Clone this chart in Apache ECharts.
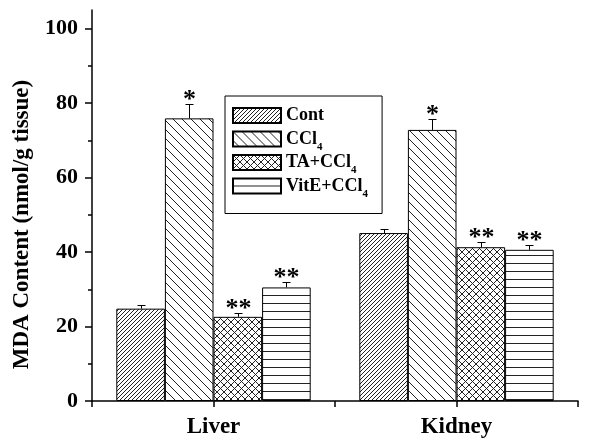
<!DOCTYPE html>
<html><head><meta charset="utf-8">
<script src="https://cdn.jsdelivr.net/npm/echarts@6/dist/echarts.min.js"></script>
<style>html,body{margin:0;padding:0;background:#fff}#c{width:600px;height:446px}</style>
</head><body><div id="c"></div>
<script>
const categories = ['Liver', 'Kidney'];
const seriesNames = ['Cont', 'CCl4', 'TA+CCl4', 'VitE+CCl4'];
const contValues = [24.8, 45.1];
const ccl4Values = [75.9, 72.8];
const taValues = [22.6, 41.3];
const viteValues = [30.5, 40.6];
const contErr = [0.9, 1.1];
const ccl4Err = [3.8, 3.0];
const taErr = [0.9, 1.5];
const viteErr = [1.4, 1.4];
const contMarks = ['', ''];
const ccl4Marks = ['*', '*'];
const taMarks = ['**', '**'];
const viteMarks = ['**', '**'];
const yMajorTicks = [0, 20, 40, 60, 80, 100];
const yMinorTicks = [10, 30, 50, 70, 90];

const FONT = '"Liberation Serif", "Times New Roman", serif';
const values = [contValues, ccl4Values, taValues, viteValues];
const errs = [contErr, ccl4Err, taErr, viteErr];
const marks = [contMarks, ccl4Marks, taMarks, viteMarks];

function makePattern(size, draw) {
  const c = document.createElement('canvas');
  c.width = size; c.height = size;
  const ctx = c.getContext('2d');
  ctx.fillStyle = '#fff'; ctx.fillRect(0, 0, size, size);
  ctx.strokeStyle = '#222'; ctx.lineWidth = 1;
  draw(ctx, size);
  return { image: c, repeat: 'repeat' };
}
function fwd(ctx, s) { for (let k = -1; k <= 1; k++) { ctx.beginPath(); ctx.moveTo(k * s, s); ctx.lineTo(k * s + s, 0); ctx.stroke(); } }
function back(ctx, s) { for (let k = -1; k <= 1; k++) { ctx.beginPath(); ctx.moveTo(k * s, 0); ctx.lineTo(k * s + s, s); ctx.stroke(); } }
function horiz(ctx, s) { ctx.beginPath(); ctx.moveTo(0, s - 0.5); ctx.lineTo(s, s - 0.5); ctx.stroke(); }

const fills = [
  makePattern(4, fwd),
  makePattern(9, back),
  makePattern(7, (ctx, s) => { fwd(ctx, s); back(ctx, s); }),
  makePattern(8, horiz)
];

const errData = [];
const errMarks = [];
for (let s = 0; s < 4; s++) {
  for (let c = 0; c < categories.length; c++) {
    errData.push([c, values[s][c], errs[s][c], s]);
    errMarks.push(marks[s][c]);
  }
}

const series = seriesNames.map((n, i) => ({
  type: 'bar', name: n, data: values[i],
  barGap: '0%', barCategoryGap: '20%',
  itemStyle: { color: fills[i], borderColor: '#000', borderWidth: 1 }
}));

series.push({
  type: 'custom', name: 'err', z: 5, silent: true,
  data: errData, encode: { x: 0, y: 1 },
  renderItem: function (params, api) {
    const c = api.value(0), v = api.value(1), e = api.value(2), s = api.value(3);
    const band = api.size([1, 0])[0];
    const bw = band * 0.8 / 4;
    const base = api.coord([c, v]);
    const x = Math.round(base[0] - band * 0.4 + bw * (s + 0.5)) + 0.5;
    const y0 = base[1];
    const yTop = Math.round(api.coord([c, v + e])[1]) + 0.5;
    const mark = errMarks[params.dataIndex];
    const children = [
      { type: 'line', shape: { x1: x, y1: y0, x2: x, y2: yTop }, style: { stroke: '#000', lineWidth: 1 } },
      { type: 'line', shape: { x1: x - 4, y1: yTop, x2: x + 4, y2: yTop }, style: { stroke: '#000', lineWidth: 1 } }
    ];
    if (mark) {
      children.push({ type: 'text', style: { text: mark, x: x, y: yTop + 9, fill: '#000',
        font: 'bold 26px ' + FONT, align: 'center', verticalAlign: 'bottom',
        textAlign: 'center', textVerticalAlign: 'bottom' } });
    }
    return { type: 'group', children: children };
  }
});

const chart = echarts.init(document.getElementById('c'), null, { renderer: 'canvas' });
chart.setOption({
  animation: false,
  backgroundColor: '#fff',
  grid: { left: 92, right: 22, top: 10, bottom: 45, containLabel: false },
  legend: {
    data: seriesNames, orient: 'vertical', left: 225, top: 96,
    icon: 'rect', itemWidth: 48, itemHeight: 15, itemGap: -3.5,
    padding: [6, 14, 14, 7], borderColor: '#000', borderWidth: 1,
    formatter: n => n.replace('CCl4', 'CCl{sub|4}'),
    textStyle: { fontFamily: FONT, fontWeight: 'bold', fontSize: 18, color: '#000', lineHeight: 27,
      rich: { sub: { fontFamily: FONT, fontWeight: 'bold', fontSize: 11, lineHeight: 11, verticalAlign: 'bottom', color: '#000' } } }
  },
  xAxis: [
    { type: 'category', data: categories, position: 'bottom',
      axisLine: { lineStyle: { color: '#000', width: 1.5 } },
      axisTick: { show: false },
      axisLabel: { color: '#000', fontFamily: FONT, fontWeight: 'bold', fontSize: 23, margin: 15 } },
    { type: 'value', min: 0, max: 4, interval: 1, position: 'bottom',
      axisLine: { show: false }, splitLine: { show: false },
      axisTick: { show: true, length: 6, lineStyle: { color: '#000', width: 1.5 } },
      axisLabel: { show: false } }
  ],
  yAxis: [
    { type: 'value', min: 0, max: 105, interval: 20, position: 'left',
      name: 'MDA Content (nmol/g tissue)', nameLocation: 'middle', nameGap: 58,
      nameTextStyle: { color: '#000', fontFamily: FONT, fontWeight: 'bold', fontSize: 23, padding: [0, 38, 0, 0] },
      axisLine: { show: true, lineStyle: { color: '#000', width: 1.5 } },
      splitLine: { show: false },
      axisTick: { show: true, length: 7, customValues: yMajorTicks, lineStyle: { color: '#000', width: 1.5 } },
      axisLabel: { customValues: yMajorTicks, color: '#000', fontFamily: FONT, fontWeight: 'bold', fontSize: 22, margin: 14 } },
    { type: 'value', min: 0, max: 105, interval: 10, position: 'left', offset: 0,
      axisLine: { show: false }, splitLine: { show: false },
      axisTick: { show: true, length: 4, customValues: yMinorTicks, lineStyle: { color: '#000', width: 1.5 } },
      axisLabel: { show: false } }
  ],
  series: series
});
</script>
</body></html>
